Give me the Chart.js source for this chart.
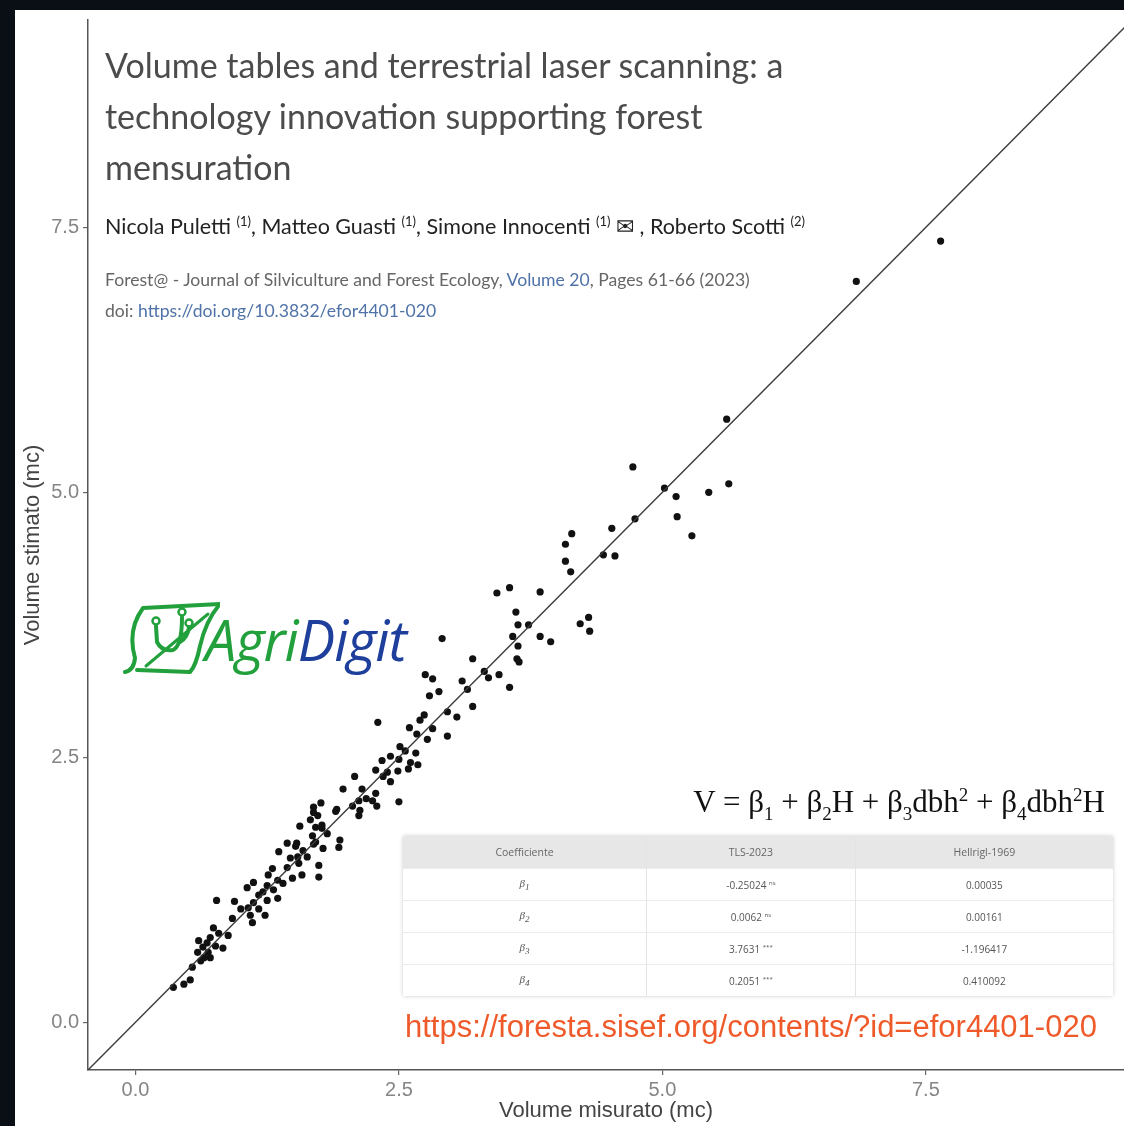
<!DOCTYPE html>
<html>
<head>
<meta charset="utf-8">
<script src="https://cdn.jsdelivr.net/npm/chart.js@4.4.0/dist/chart.umd.min.js"></script>
<style>
html, body { margin: 0; padding: 0; }
body { width: 1124px; height: 1126px; background: #0a0e15; position: relative; overflow: hidden; }
#panel { position: absolute; left: 15px; top: 10px; width: 1109px; height: 1116px; background: #fff; }
#myChart { position: absolute; left: 0; top: 0; }
.ov { position: absolute; white-space: nowrap; }
.paperTitle { left: 105px; top: 39px; font-family: Lato, sans-serif; font-size: 34px; line-height: 51px; color: #4c4c4c; }
.authors { left: 105px; top: 208px; font-family: Lato, sans-serif; font-size: 21.5px; line-height: 26px; color: #222; }
.authors sup { font-size: 13px; }
.journal { left: 105px; font-family: Lato, sans-serif; font-size: 17.6px; line-height: 22px; color: #666; }
.journal a { color: #4f72a8; text-decoration: none; }
.logoText { left: 205px; top: 609px; font-family: "Open Sans", sans-serif; font-style: italic; font-size: 56px; line-height: 60px; letter-spacing: -1px; }
.formula { right: 19px; top: 776px; font-family: "Liberation Serif", serif; font-size: 31px; line-height: 38px; color: #111; }
.formula sub, .formula sup { font-size: 19px; }
.url { left: 405px; top: 1009px; font-family: "Liberation Sans", Arial, sans-serif; font-size: 31px; line-height: 36px; color: #ef5a2a; }
#coef { position: absolute; left: 403px; top: 836px; width: 710px; border-collapse: collapse;
        font-family: "Open Sans", sans-serif; font-size: 10px; color: #555; box-shadow: 0 0 4px #ccc; background: #fff; }
#coef th { background: #e7e7e7; font-weight: normal; height: 32px; padding: 0; color: #666; font-size: 10.5px; }
#coef td { text-align: center; height: 31px; padding: 0; border-top: 1px solid #ececec; }
#coef td + td, #coef th + th { border-left: 1px solid #e4e4e4; }
#coef .b { font-family: "Liberation Serif", serif; font-style: italic; font-size: 11px; }
#coef .sig { font-size: 6px; vertical-align: 4px; }
</style>
</head>
<body>
<div id="panel"><canvas id="myChart" width="1113" height="1116"></canvas></div>

<div class="ov paperTitle">Volume tables and terrestrial laser scanning: a<br>technology innovation supporting forest<br>mensuration</div>
<div class="ov authors">Nicola Puletti <sup>(1)</sup>, Matteo Guasti <sup>(1)</sup>, Simone Innocenti <sup>(1)</sup> &#x2709; , Roberto Scotti <sup>(2)</sup></div>
<div class="ov journal" style="top:269px">Forest@ - Journal of Silviculture and Forest Ecology, <a>Volume 20</a>, Pages 61-66 (2023)</div>
<div class="ov journal" style="top:300px">doi: <a>https://doi.org/10.3832/efor4401-020</a></div>

<svg class="ov" style="left:110px;top:580px" width="110" height="105" viewBox="0 0 110 105">
  <g fill="none" stroke="#21a03c" stroke-width="4" stroke-linecap="round" stroke-linejoin="round">
    <path d="M 15 92 Q 24 90 25 78 Q 17 50 33 28 L 110 24 Q 96 40 90 66 Q 86 86 80 92 L 27 90"/>
    <path d="M 46 46 L 47 62 Q 52 72 63 70 Q 72 66 72 37"/>
    <path d="M 79 47 Q 78 57 70 62"/>
    <path d="M 36 86 L 98 34" stroke-width="3"/>
    <circle cx="46" cy="41" r="3.5" stroke-width="2.5"/>
    <circle cx="72" cy="32" r="3.5" stroke-width="2.5"/>
    <circle cx="79" cy="43" r="3.5" stroke-width="2.5"/>
  </g>
</svg>
<div class="ov logoText"><span style="color:#21a03c">Agri</span><span style="color:#1e3f9b">Digit</span></div>

<div class="ov formula">V = &beta;<sub>1</sub> + &beta;<sub>2</sub>H + &beta;<sub>3</sub>dbh<sup>2</sup> + &beta;<sub>4</sub>dbh<sup>2</sup>H</div>

<table id="coef">
  <tr><th>Coefficiente</th><th>TLS-2023</th><th>Hellrigl-1969</th></tr>
  <tr><td class="b">&beta;<sub>1</sub></td><td>-0.25024 <span class="sig">ns</span></td><td>0.00035</td></tr>
  <tr><td class="b">&beta;<sub>2</sub></td><td>0.0062 <span class="sig">ns</span></td><td>0.00161</td></tr>
  <tr><td class="b">&beta;<sub>3</sub></td><td>3.7631 <span class="sig">***</span></td><td>-1.196417</td></tr>
  <tr><td class="b">&beta;<sub>4</sub></td><td>0.2051 <span class="sig">***</span></td><td>0.410092</td></tr>
</table>

<div class="ov url">https://foresta.sisef.org/contents/?id=efor4401-020</div>

<script>
// volume misurato (x) / volume stimato (y)
const measuredVolume = [
    7.64, 6.84, 5.61, 5.63, 5.44, 4.72, 5.02, 5.13, 5.14, 5.28,
    4.74, 4.52, 4.44, 4.55, 4.14, 4.08, 4.08, 4.13, 3.43, 3.55,
    3.84, 3.61, 3.63, 3.73, 3.58, 3.63, 3.84, 3.94, 4.22, 4.30,
    4.31, 3.62, 3.64, 2.91, 3.20, 3.31, 3.35, 3.45, 3.55, 3.10,
    3.15, 3.20, 2.75, 2.82, 2.79, 2.88, 2.96, 3.05, 2.96, 2.74,
    2.70, 2.60, 2.67, 2.82, 2.77, 2.30, 2.51, 2.56, 2.66, 2.42,
    2.34, 2.50, 2.61, 2.68, 2.28, 2.39, 2.49, 2.59, 2.08, 2.35,
    2.42, 1.97, 2.15, 2.28, 2.19, 2.12, 2.50, 1.76, 1.69, 2.25,
    2.06, 2.13, 2.29, 2.12, 1.91, 1.73, 1.66, 1.56, 1.71, 1.77,
    1.68, 1.82, 1.71, 1.53, 1.94, 1.93, 1.78, 1.69, 1.44, 1.52,
    1.59, 1.36, 1.54, 1.47, 1.63, 1.55, 1.74, 1.44, 1.30, 1.58,
    1.74, 1.49, 1.26, 1.35, 1.40, 1.12, 1.25, 1.06, 1.31, 1.21,
    1.17, 1.35, 1.25, 0.94, 0.77, 1.12, 1.07, 1.00, 1.17, 1.09,
    1.23, 0.92, 1.11, 0.74, 0.79, 0.71, 0.88, 0.60, 0.68, 0.64,
    0.76, 0.83, 0.59, 0.69, 0.65, 0.62, 0.71, 0.54, 0.52, 0.46,
    0.36, 1.90, 1.69, 1.77
];
const estimatedVolume = [
    7.37, 6.99, 5.69, 5.08, 5.00, 5.24, 5.04, 4.96, 4.77, 4.59,
    4.75, 4.66, 4.41, 4.40, 4.61, 4.51, 4.35, 4.25, 4.05, 4.10,
    4.06, 3.87, 3.75, 3.75, 3.64, 3.55, 3.64, 3.59, 3.76, 3.82,
    3.69, 3.43, 3.40, 3.62, 3.43, 3.31, 3.25, 3.28, 3.16, 3.22,
    3.14, 2.98, 3.28, 3.24, 3.08, 3.12, 2.93, 2.88, 2.70, 2.90,
    2.85, 2.78, 2.72, 2.77, 2.67, 2.83, 2.60, 2.56, 2.54, 2.51,
    2.47, 2.48, 2.45, 2.43, 2.38, 2.36, 2.37, 2.39, 2.32, 2.32,
    2.27, 2.20, 2.20, 2.16, 2.11, 2.09, 2.08, 2.07, 2.03, 2.09,
    2.04, 2.00, 2.04, 1.95, 2.01, 1.95, 1.91, 1.85, 1.84, 1.83,
    1.76, 1.78, 1.70, 1.69, 1.72, 1.65, 1.64, 1.68, 1.69, 1.66,
    1.62, 1.61, 1.56, 1.55, 1.56, 1.50, 1.48, 1.46, 1.45, 1.39,
    1.37, 1.36, 1.39, 1.34, 1.31, 1.32, 1.29, 1.27, 1.25, 1.23,
    1.20, 1.17, 1.15, 1.14, 1.15, 1.13, 1.08, 1.07, 1.07, 1.01,
    1.01, 0.98, 0.94, 0.89, 0.84, 0.80, 0.82, 0.77, 0.75, 0.71,
    0.72, 0.70, 0.66, 0.66, 0.61, 0.58, 0.61, 0.52, 0.40, 0.36,
    0.33, 1.99, 1.98, 1.86
];
// bisector y = x, drawn from one end of the axes to the other
const bisector = [-0.45, 9.5];

const xTicks = [0, 2.5, 5, 7.5];
const yTicks = [0, 2.5, 5, 7.5];

let points = measuredVolume.map((v, i) => ({ x: v, y: estimatedVolume[i] }));
let linePoints = bisector.map(v => ({ x: v, y: v }));

let tickFont = { family: 'Liberation Sans', size: 20 };
let titleFont = { family: 'Liberation Sans', size: 22 };

let config = {
    type: 'scatter',
    data: {
        datasets: [{
            type: 'line',
            data: linePoints,
            borderColor: '#3a3a3a',
            borderWidth: 1.4,
            pointRadius: 0,
            fill: false
        }, {
            data: points,
            backgroundColor: '#111',
            borderWidth: 0,
            pointRadius: 3.6
        }]
    },
    options: {
        responsive: false,
        animation: false,
        devicePixelRatio: 1,
        layout: { padding: { top: 10, left: 0, right: 0, bottom: 0 } },
        plugins: { legend: { display: false }, tooltip: { enabled: false } },
        scales: {
            x: {
                type: 'linear',
                min: -0.45,
                max: 9.38,
                afterBuildTicks: s => { s.ticks = xTicks.map(v => ({ value: v })); },
                afterFit: s => { s.height = 56; s.paddingLeft = 0; s.paddingRight = 0; },
                border: { display: true, color: '#555', width: 1.5 },
                grid: { display: true, drawOnChartArea: false, drawTicks: true, tickLength: 5, color: '#666', lineWidth: 1.2 },
                ticks: { color: '#858585', font: tickFont, padding: 3, autoSkip: false, maxRotation: 0, callback: v => v.toFixed(1) },
                title: { display: true, text: 'Volume misurato (mc)', color: '#444', font: titleFont, padding: { top: 0, bottom: 2 } }
            },
            y: {
                type: 'linear',
                min: -0.45,
                max: 9.456,
                afterBuildTicks: s => { s.ticks = yTicks.map(v => ({ value: v })); },
                afterFit: s => { s.width = 73; s.paddingTop = 0; s.paddingBottom = 0; },
                border: { display: true, color: '#555', width: 1.5 },
                grid: { display: true, drawOnChartArea: false, drawTicks: true, tickLength: 5, color: '#666', lineWidth: 1.2 },
                ticks: { color: '#858585', font: tickFont, padding: 4, autoSkip: false, callback: v => v.toFixed(1) },
                title: { display: true, text: 'Volume stimato (mc)', color: '#444', font: titleFont, padding: { top: 5, bottom: 0 } }
            }
        }
    }
};

let myChart = new Chart(document.getElementById('myChart'), config);
</script>
</body>
</html>
